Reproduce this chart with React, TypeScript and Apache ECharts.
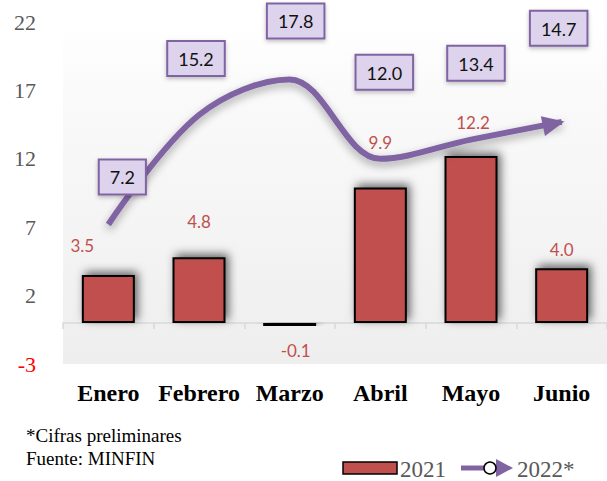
import React, { useEffect, useRef } from "react";
import * as echarts from "echarts";

const categories = ["Enero", "Febrero", "Marzo", "Abril", "Mayo", "Junio"];
const values2021 = [3.5, 4.8, -0.1, 9.9, 12.2, 4.0];
const values2022 = [7.2, 15.2, 17.8, 12.0, 13.4, 14.7];
const yMin = -3;
const yMax = 22;
const yStep = 5;

// label placement tweaks (pixels), not data
const barLabelOffsets: [number, number][] = [[-26, -16], [0, -22], [6, 11], [0, -32], [2, -20], [0, -5]];
const lineLabelOffsets: [number, number][] = [[14, -31], [-3, -40], [6, -42], [4, -70], [5, -60], [5, -67]];

const RED = "#c0504d";
const PURPLE = "#8064a2";
const SERIF = "Liberation Serif";
const SANS = "Lato";

export default function App() {
  const ref = useRef<HTMLDivElement>(null);
  useEffect(() => {
    const chart = echarts.init(ref.current!, null, { renderer: "svg" });
    const last = values2022.length - 1;
    const txt = (text: string, x: number, y: number, size: number, fill: string) => ({
      type: "text",
      x,
      y,
      style: { text, fontFamily: SERIF, fontSize: size, fill, verticalAlign: "middle" },
    });
    chart.setOption({
      animation: false,
      grid: {
        left: 63,
        top: 22,
        width: 546,
        height: 342,
        show: true,
        borderWidth: 0,
        backgroundColor: new echarts.graphic.LinearGradient(0, 0, 0, 1, [
          { offset: 0, color: "#ffffff" },
          { offset: 0.2, color: "#fafafa" },
          { offset: 1, color: "#eeeeee" },
        ]),
      },
      xAxis: [
        {
          type: "category",
          data: categories,
          axisLine: { show: false, onZero: false },
          axisTick: { show: false },
          axisLabel: { interval: 0, margin: 17, fontFamily: SERIF, fontWeight: "bold", fontSize: 24, color: "#000" },
        },
        {
          type: "category",
          data: categories,
          position: "bottom",
          axisLine: { show: true, onZero: true, lineStyle: { color: "#d9d9d9", width: 1.5 } },
          axisTick: { show: true, length: 6, lineStyle: { color: "#d9d9d9", width: 1.5 } },
          axisLabel: { show: false },
          z: 0,
        },
      ],
      yAxis: {
        type: "value",
        min: yMin,
        max: yMax,
        interval: yStep,
        axisLine: { show: false },
        axisTick: { show: false },
        splitLine: { show: false },
        axisLabel: {
          margin: 27,
          fontFamily: SERIF,
          fontSize: 22,
          color: (v: any) => (Number(v) < 0 ? "#ff0000" : "#595959"),
        },
      },
      series: [
        {
          name: "2021",
          type: "bar",
          xAxisIndex: 0,
          barWidth: 53,
          barMinHeight: 3,
          data: values2021.map((v, i) => ({
            value: v,
            label: {
              position: v < 0 ? "bottom" : "top",
              offset: barLabelOffsets[i],
            },
          })),
          itemStyle: {
            color: RED,
            borderColor: "#000",
            borderWidth: 2,
            shadowColor: "rgba(0,0,0,0.6)",
            shadowBlur: 10,
            shadowOffsetX: 3,
            shadowOffsetY: -3,
          },
          label: {
            show: true,
            distance: 5,
            fontFamily: SANS,
            fontSize: 17,
            color: RED,
            formatter: (p: any) => Number(p.value).toFixed(1),
          },
          z: 3,
        },
        {
          name: "2022*",
          type: "line",
          xAxisIndex: 0,
          smooth: 0.35,
          symbol: "circle",
          symbolSize: 0,
          lineStyle: {
            color: PURPLE,
            width: 6,
            shadowColor: "rgba(0,0,0,0.35)",
            shadowBlur: 8,
            shadowOffsetY: 4,
          },
          itemStyle: { color: PURPLE },
          data: values2022.map((v, i) => {
            const item: any = {
              value: v,
              label: { offset: lineLabelOffsets[i] },
            };
            if (i === last) {
              item.symbol = "triangle";
              item.symbolSize = [20, 22];
              item.symbolRotate = -78;
              item.symbolOffset = [-8, 2];
            }
            return item;
          }),
          label: {
            show: true,
            position: "top",
            distance: 0,
            fontFamily: SANS,
            fontSize: 18,
            color: "#111",
            backgroundColor: "#ddd3ec",
            borderColor: PURPLE,
            borderWidth: 2,
            padding: [8, 10, 7, 10],
            shadowColor: "rgba(0,0,0,0.25)",
            shadowBlur: 4,
            shadowOffsetY: 2,
            formatter: (p: any) => Number(p.value).toFixed(1),
          },
          z: 5,
        },
      ],
      graphic: [
        txt("*Cifras preliminares", 26, 435, 19, "#000"),
        txt("Fuente: MINFIN", 26, 458, 19, "#000"),
        { type: "rect", shape: { x: 343, y: 462, width: 54, height: 12 }, style: { fill: RED, stroke: "#000", lineWidth: 1.5 } },
        txt("2021", 400, 469, 23, "#595959"),
        { type: "line", shape: { x1: 461, y1: 468, x2: 490, y2: 468 }, style: { stroke: PURPLE, lineWidth: 5 } },
        { type: "polygon", shape: { points: [[496, 459], [513, 468], [496, 477]] }, style: { fill: PURPLE } },
        { type: "circle", shape: { cx: 490, cy: 468, r: 6 }, style: { fill: "#fff", stroke: "#000", lineWidth: 1.5 } },
        txt("2022*", 517, 469, 23, "#595959"),
      ],
    });
    return () => chart.dispose();
  }, []);
  return <div ref={ref} style={{ position: "absolute", left: 0, top: 0, width: 607, height: 481 }} />;
}
